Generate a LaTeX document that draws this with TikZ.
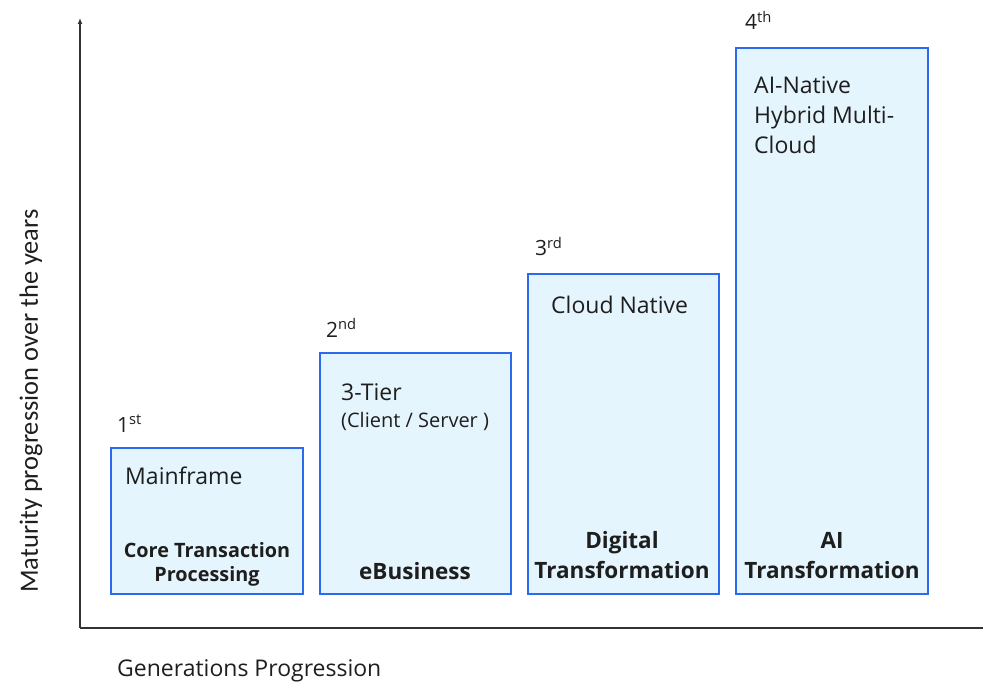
\documentclass[tikz,border=0pt]{standalone}
\usepackage{fontspec}
\setmainfont{Open Sans}
\newfontfamily\ylabfont{Carlito}
\usetikzlibrary{arrows.meta}
\definecolor{boxfill}{RGB}{229,245,253}
\definecolor{boxline}{RGB}{45,105,240}
\definecolor{txt}{RGB}{30,30,30}
\tikzset{
  genbox/.style={draw=boxline, fill=boxfill, line width=2.2pt},
  toptext/.style={anchor=base west, inner sep=0pt, font=\fontsize{23}{28}\selectfont, text=txt},
  bottext/.style={anchor=base, inner sep=0pt, font=\bfseries\fontsize{22.5}{28}\selectfont, text=txt},
  genlabel/.style={anchor=base west, inner sep=0pt, font=\fontsize{21}{24}\selectfont, text=txt},
  axis/.style={line width=1.3pt, draw=black!80}
}
\begin{document}
\begin{tikzpicture}[x=1pt,y=-1pt]
\useasboundingbox (0,0) rectangle (983,687);
% axes
\coordinate (origin) at (80,628);
\coordinate (ytop) at (80,18);
\coordinate (xend) at (983,628);
\draw[axis, -{Latex[length=6pt,width=5pt]}] (origin) -- (ytop);
\draw[axis] (origin) -- (xend);
% boxes
\draw[genbox] (111,448) rectangle (303,594);
\draw[genbox] (320,353) rectangle (511,594);
\draw[genbox] (528,274) rectangle (719,594);
\draw[genbox] (736,48) rectangle (928,594);
% generation labels
\node[genlabel] (g1) at (117,432) {1\textsuperscript{st}};
\node[genlabel] (g2) at (326,337) {2\textsuperscript{nd}};
\node[genlabel] (g3) at (535,256) {3\textsuperscript{rd}};
\node[genlabel] (g4) at (745,30) {4\textsuperscript{th}};
% top texts
\node[toptext] (t1) at (125,484) {Mainframe};
\node[toptext] (t2a) at (341,400) {3-Tier};
\node[toptext, font=\fontsize{20}{24}\selectfont] (t2b) at (341,427) {(Client / Server )};
\node[toptext] (t3) at (551,313) {Cloud Native};
\node[toptext] (t4a) at (754,94) {AI-Native};
\node[toptext] (t4b) at (754,124) {Hybrid Multi-};
\node[toptext] (t4c) at (754,154) {Cloud};
% bottom texts
\node[bottext, font=\bfseries\fontsize{19.8}{24}\selectfont] (u1a) at (207,557.5) {Core Transaction};
\node[bottext, font=\bfseries\fontsize{19.8}{24}\selectfont] (u1b) at (207,581) {Processing};
\node[bottext] (u2) at (415,579) {eBusiness};
\node[bottext] (u3a) at (622,548) {Digital};
\node[bottext] (u3b) at (622,578) {Transformation};
\node[bottext] (u4a) at (832,548) {AI};
\node[bottext] (u4b) at (832,578) {Transformation};
% axis titles
\node[anchor=base west, inner sep=0pt, font=\fontsize{23}{26}\selectfont, text=txt] (xl) at (117,676) {Generations Progression};
\node[rotate=90, inner sep=0pt, font=\ylabfont\fontsize{26.4}{30}\selectfont, text=txt] (yl) at (31,401) {Maturity progression over the years};
\end{tikzpicture}
\end{document}
